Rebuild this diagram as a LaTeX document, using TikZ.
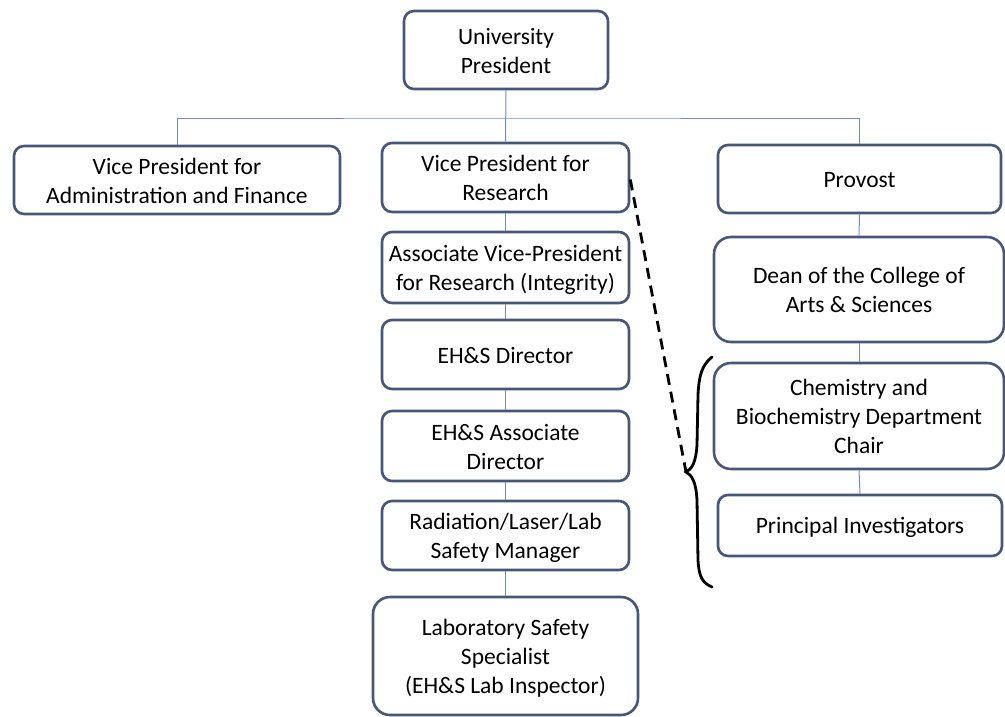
\documentclass[tikz,border=0pt]{standalone}
\usepackage{fontspec}
\setmainfont{Carlito}
\newcommand\lnS{\rule[-4pt]{0pt}{25pt}}
\begin{document}
\begin{tikzpicture}[x=1pt,y=-1pt,
  box/.style={draw=boxc,line width=2.6pt,rounded corners=10pt,fill=white,align=center,
    font=\fontsize{23.5}{29}\selectfont,inner sep=0pt,text=black},
  bigbox/.style={box,rounded corners=17pt},
  conn/.style={draw=linec,line width=1pt},
]
\definecolor{boxc}{RGB}{72,86,122}
\definecolor{linec}{RGB}{110,138,205}
\useasboundingbox (0,0) rectangle (1005,716);
% nodes
\node[box,minimum width=204pt,minimum height=78pt] (pres) at (506,50) {\lnS University\\\lnS President};
\node[box,minimum width=326pt,minimum height=68pt] (vpa) at (177,180) {\lnS Vice President for\\\lnS Administration and Finance};
\node[box,minimum width=247pt,minimum height=69pt] (vpr) at (505.5,177.5) {\lnS Vice President for\\\lnS Research};
\node[box,minimum width=283pt,minimum height=68pt] (prov) at (859.5,179) {\lnS Provost};
\node[box,minimum width=247pt,minimum height=71pt] (avp) at (505.5,267.5) {\lnS Associate Vice-President\\\lnS for Research (Integrity)};
\node[box,minimum width=247pt,minimum height=69pt] (ehsd) at (505.5,354.5) {\lnS EH\&S Director};
\node[box,minimum width=247pt,minimum height=70pt] (ehsa) at (505.5,446) {\lnS EH\&S Associate\\\lnS Director};
\node[box,minimum width=247pt,minimum height=69pt] (rad) at (505.5,535.5) {\lnS Radiation/Laser/Lab\\\lnS Safety Manager};
\node[bigbox,minimum width=265pt,minimum height=118pt] (lss) at (505.5,656) {\lnS Laboratory Safety\\\lnS Specialist\\\lnS (EH\&S Lab Inspector)};
\node[bigbox,minimum width=290pt,minimum height=105pt] (dean) at (859,289.5) {\lnS Dean of the College of\\\lnS Arts \& Sciences};
\node[bigbox,minimum width=290pt,minimum height=106pt] (chem) at (859,416) {\lnS Chemistry and\\\lnS Biochemistry Department\\\lnS Chair};
\node[box,minimum width=284pt,minimum height=61pt] (pi) at (860,525.5) {\lnS Principal Investigators};
% connectors
\coordinate (bus) at (506,118);
\draw[conn] (pres.south) -- (vpr.north);
\draw[conn] (vpa.north) |- (bus) -| (prov.north);
\draw[conn] (vpr.south) -- (avp.north);
\draw[conn] (avp.south) -- (ehsd.north);
\draw[conn] (ehsd.south) -- (ehsa.north);
\draw[conn] (ehsa.south) -- (rad.north);
\draw[conn] (rad.south) -- (lss.north);
\draw[conn] (prov.south) -- (dean.north);
\draw[conn] (dean.south) -- (chem.north);
\draw[conn] (chem.south) -- (pi.north);
% dashed line and brace
\coordinate (btop) at (712,357);
\coordinate (btip) at (686,472);
\coordinate (bbot) at (712,587);
\draw[black,line width=2.8pt,dash pattern=on 11pt off 7pt] (vpr.east) ++(0,2) -- (btip);
\draw[black,line width=2.8pt,line cap=round]
  (btop) .. controls (702,365) and (699,375) .. (698,395)
  -- (697,445) .. controls (696,462) and (692,469) .. (btip)
  .. controls (692,475) and (696,482) .. (697,500)
  -- (698,560) .. controls (699,578) and (703,583) .. (bbot);
\end{tikzpicture}
\end{document}
